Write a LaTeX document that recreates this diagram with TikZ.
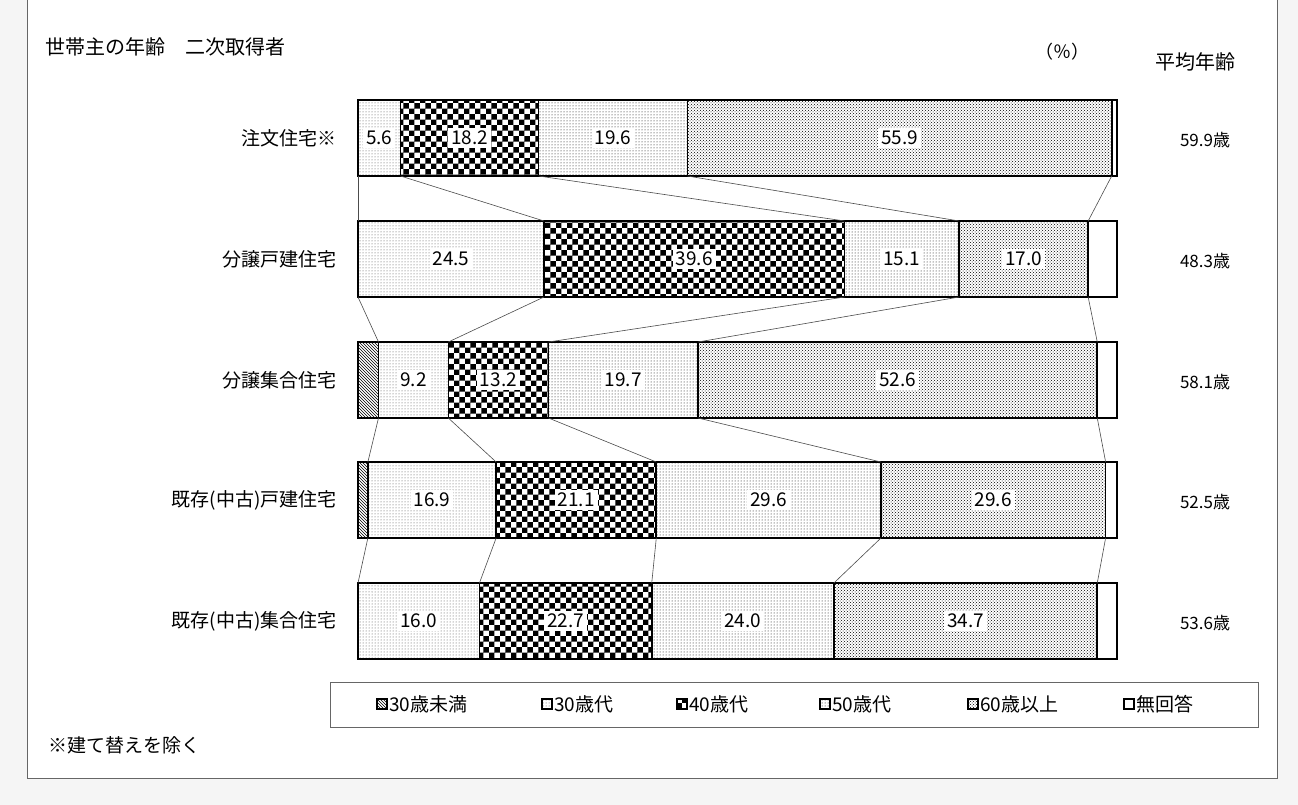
\documentclass[tikz,border=0pt]{standalone}
\usepackage{fontspec}
\setmainfont{Noto Sans CJK JP}
\usetikzlibrary{patterns}
\begin{document}
\begin{tikzpicture}[x=1pt,y=-1pt,
 seg/.style={draw=black,line width=1.6pt},
 lab/.style={fill=white,inner sep=3pt,font=\fontsize{19}{19}\selectfont},
 rowlab/.style={anchor=east,font=\fontsize{19}{19}\selectfont},
 age/.style={font=\fontsize{17}{17}\selectfont},
 p0/.style={pattern=north west lines,pattern color=black},
 p1/.style={pattern=dots,pattern color=black!70},
 p2/.style={pattern=checkerboard,pattern color=black},
 p3/.style={pattern=dots},
 p4/.style={pattern=crosshatch dots},
 p5/.style={fill=white}]
\useasboundingbox (0,0) rectangle (1298,805);
\fill[black!4] (0,0) rectangle (1298,805);
\draw[fill=white,draw=black!60,line width=1pt] (27,-5) rectangle (1277,778);
\node[anchor=west,font=\fontsize{20}{20}\selectfont] (title) at (42,47) {世帯主の年齢　二次取得者};
\node[font=\fontsize{18}{18}\selectfont] (pct) at (1062,52) {（％）};
\node[font=\fontsize{20}{20}\selectfont] (avg) at (1195,62) {平均年齢};
\def\X{358}
\foreach \r/\yt/\name/\ag/\vals in {
 1/100/注文住宅※/59.9/{0,5.6,18.2,19.6,55.9,0.7},
 2/221/分譲戸建住宅/48.3/{0,24.5,39.6,15.1,17.0,3.8},
 3/342/分譲集合住宅/58.1/{2.7,9.2,13.2,19.7,52.6,2.6},
 4/462/既存(中古)戸建住宅/52.5/{1.3,16.9,21.1,29.6,29.6,1.5},
 5/583/既存(中古)集合住宅/53.6/{0,16.0,22.7,24.0,34.7,2.6}}{
  \node[rowlab] (rl\r) at (340,\yt+38) {\name};
  \node[age] (ag\r) at (1205,\yt+40) {\ag 歳};
  \gdef\cum{0}
  \foreach \v [count=\i from 0] in \vals {
    \pgfmathsetmacro{\a}{\X+\cum*7.59}
    \pgfmathsetmacro{\b}{\X+(\cum+\v)*7.59}
    \pgfmathsetmacro{\m}{(\a+\b)/2}
    \ifdim \v pt>0pt
      \draw[seg,p\i] (\a,\yt) rectangle (\b,\yt+76);
      \ifdim \v pt>5pt
        \node[lab] (v\r\i) at (\m,\yt+38) {\v};
      \fi
    \fi
    \coordinate (t\r-\i) at (\b,\yt);
    \coordinate (b\r-\i) at (\b,\yt+76);
    \pgfmathsetmacro{\tmp}{\cum+\v}
    \global\let\cum\tmp
  }
}
\foreach \r/\n in {1/2,2/3,3/4,4/5}
  \foreach \i in {0,...,4}
    \draw[black!70,line width=0.6pt] (b\r-\i) -- (t\n-\i);
\draw[black!60,line width=1pt] (330,682) rectangle (1258,727);
\foreach \i/\x/\t in {0/377/30歳未満,1/542/30歳代,2/677/40歳代,3/820/50歳代,4/968/60歳以上,5/1124/無回答}{
  \draw[p\i,draw=black,line width=1.2pt] (\x,699) rectangle (\x+10,709);
  \node[anchor=west,inner sep=1pt,font=\fontsize{19}{19}\selectfont] (lg\i) at (\x+11,704) {\t};
}
\node[anchor=west,font=\fontsize{19}{19}\selectfont] (note) at (45,745) {※建て替えを除く};
\end{tikzpicture}
\end{document}
